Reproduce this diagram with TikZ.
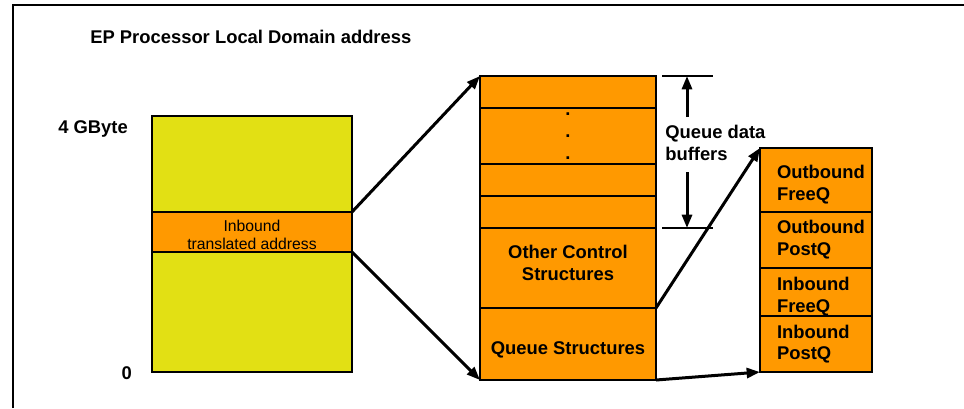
\documentclass[tikz,border=0pt]{standalone}
\usepackage{fontspec}
\setmainfont{Liberation Sans}
\usepackage{xcolor}
\usetikzlibrary{positioning,arrows.meta}
\definecolor{orng}{RGB}{255,153,0}
\definecolor{ylw}{RGB}{226,224,20}

\begin{document}
\begin{tikzpicture}[x=0.75pt,y=-0.75pt,
		bx/.style={draw,line width=1.5pt,outer sep=0pt,inner sep=0pt},
		blk/.style={bx,fill=orng,align=center,font=\bfseries\fontsize{13.8}{16.3}\selectfont},
		mid/.style={blk,minimum width=132pt},
		rgt/.style={blk,text width=58.5pt,inner xsep=12.75pt,align=left,execute at begin node={\hyphenpenalty=10000 }},
		lbl/.style={inner sep=0pt,font=\bfseries\fontsize{13.8}{16.3}\selectfont},
		conn/.style={line width=2.25pt,-{Triangle[length=10pt,width=7.5pt]}}]
		\useasboundingbox (0,0) rectangle (964,408);
		\draw[line width=1.5pt] (13,408) -- (13,5) -- (964,5);
		\node[lbl,anchor=base west] (ttl) at (90,43.5) {EP Processor Local Domain address};
		% local address space
		\node[bx,fill=ylw,minimum width=150pt,minimum height=192pt,anchor=north west] (addr) at (152,116) {};
		\node[bx,fill=orng,minimum width=150pt,minimum height=30pt,align=center,font=\fontsize{11.8}{14}\selectfont,text height=27pt,anchor=north west] (inb) at (152,212) {Inbound\\translated address};
		\node[lbl,anchor=base west] (gb) at (58,133.5) {4 GByte};
		\node[lbl,anchor=base east] (zero) at (132,379) {0};
		% translated window
		\node[mid,minimum height=24pt,anchor=north west] (qb1) at (480,76) {};
		\node[mid,minimum height=42pt,below=0pt of qb1] (qb2) {.\\.\\.};
		\node[mid,minimum height=24pt,below=0pt of qb2] (qb3) {};
		\node[mid,minimum height=24pt,below=0pt of qb3] (qb4) {};
		\node[mid,minimum height=60pt,text depth=7.5pt,below=0pt of qb4] (oc) {Other Control\\Structures};
		\node[mid,minimum height=54pt,text height=19pt,below=0pt of oc] (qs) {Queue Structures};
		% queues
		\node[rgt,minimum height=48pt,text height=17.5pt,anchor=north west] (ofq) at (760,148) {Outbound\\FreeQ};
		\node[rgt,minimum height=42pt,below=0pt of ofq] (opq) {Outbound\\PostQ};
		\node[rgt,minimum height=36pt,text height=17pt,below=0pt of opq] (ifq) {Inbound\\FreeQ};
		\node[rgt,minimum height=42pt,below=0pt of ifq] (ipq) {Inbound\\PostQ};
		\draw[conn] (inb.north east) -- (qb1.north west);
		\draw[conn] (inb.south east) -- (qs.south west);
		\draw[conn] (oc.south east) -- (ofq.north west);
		\draw[conn] (qs.south east) -- (ipq.south west);
		% queue data buffers
		\coordinate (dtop) at (662,76);
		\coordinate (dbot) at (662,228);
		\coordinate (up) at (687,117);
		\coordinate (dn) at (687,172);
		\draw[line width=1.5pt] (dtop) -- ++(51,0);
		\draw[line width=1.5pt] (dbot) -- ++(51,0);
		\draw[conn] (up) -- (up |- dtop);
		\draw[conn] (dn) -- (dn |- dbot);
		\node[lbl,align=left,anchor=west] (qdb) at (665,143) {Queue data\\buffers};
	\end{tikzpicture}
\end{document}
